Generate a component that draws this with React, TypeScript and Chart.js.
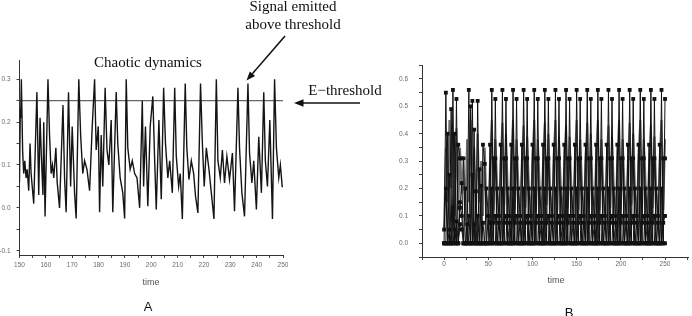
import React, { useEffect, useRef } from 'react';
import { Chart, registerables } from 'chart.js';

Chart.register(...registerables);

// ---------- Panel A : chaotic dynamics ----------
const timeA = [
  150.0, 150.3, 150.45, 150.7, 151.2, 151.6, 152.0, 152.5, 152.9, 153.5,
  154.0, 154.4, 155.4, 156.6, 157.3, 157.8, 158.3, 158.9, 159.2, 159.7,
  160.8, 161.4, 162.0, 162.5, 163.0, 163.8, 164.3, 165.2, 166.5, 167.1,
  167.7, 168.6, 169.4, 170.0, 170.9, 171.5, 172.5, 173.2, 174.0, 174.7,
  175.6, 176.6, 177.6, 178.5, 179.1, 179.9, 180.4, 181.0, 181.6, 182.5,
  183.2, 183.9, 184.8, 185.4, 186.7, 187.3, 188.2, 189.2, 189.9, 190.5,
  191.1, 192.0, 192.8, 193.7, 194.6, 195.6, 196.6, 197.1, 197.8, 198.7,
  199.6, 200.6, 201.3, 201.9, 202.9, 203.8, 204.7, 205.4, 206.3, 207.0,
  208.0, 208.9, 209.5, 210.4, 211.0, 211.8, 212.9, 213.5, 214.3, 215.2,
  216.1, 216.8, 217.7, 218.7, 219.4, 220.1, 220.9, 221.9, 222.8, 223.8,
  224.7, 225.3, 226.2, 227.0, 227.8, 228.7, 229.7, 230.8, 231.6, 232.9,
  233.5, 234.4, 235.4, 236.7, 237.3, 238.2, 238.9, 239.9, 240.8, 241.8,
  242.7, 243.3, 244.1, 245.0, 246.0, 246.8, 247.5, 248.4, 249.0, 249.7,
  250.0,
];
const valueA = [
  0.06, 0.23, 0.21, 0.30, 0.13, 0.08, 0.11, 0.07, 0.09, 0.04,
  0.15, 0.08, 0.01, 0.27, 0.03, 0.21, 0.12, 0.03, 0.20, -0.02,
  0.30, 0.17, 0.08, 0.10, 0.07, 0.14, 0.06, 0.00, 0.24, 0.07,
  -0.01, 0.27, 0.05, 0.19, 0.035, -0.025, 0.30, 0.17, 0.08, 0.11,
  0.09, 0.04, 0.19, 0.30, 0.135, 0.19, -0.01, 0.17, 0.05, 0.28,
  0.135, 0.10, 0.205, -0.01, 0.27, 0.15, 0.07, 0.035, -0.025, 0.30,
  0.14, 0.09, 0.11, 0.08, 0.07, 0.00, 0.25, 0.05, 0.19, 0.004,
  0.19, 0.26, 0.11, -0.004, 0.205, 0.02, 0.28, 0.15, 0.07, 0.11,
  0.035, 0.28, 0.12, 0.05, 0.08, -0.026, 0.29, 0.14, 0.066, 0.11,
  0.08, 0.027, -0.012, 0.29, 0.15, 0.05, 0.14, 0.09, 0.035, -0.026,
  0.30, 0.11, 0.07, 0.135, 0.058, 0.12, 0.066, 0.128, -0.008, 0.28,
  0.14, 0.035, -0.02, 0.29, 0.128, 0.058, 0.11, -0.004, 0.166, 0.035,
  0.27, 0.11, 0.05, 0.205, -0.026, 0.30, 0.14, 0.07, 0.10, 0.05,
  0.05,
];
const thresholdA = 0.25;
const thresholdSpanA = [150, 250];
const xTicksA = [150, 155, 160, 165, 170, 175, 180, 185, 190, 195, 200, 205, 210, 215, 220, 225, 230, 235, 240, 245, 250];
const yTicksA = [-0.1, -0.05, 0, 0.05, 0.1, 0.15, 0.2, 0.25, 0.3];

// ---------- Panel B : firing pattern ----------
const timeB = [
  0, 2, 4, 6, 8, 10, 12, 14, 16, 18, 20, 22, 24, 26, 28, 30, 32, 34, 36, 38,
  40, 42, 44, 46, 48, 50, 52, 54, 56, 58, 60, 62, 64, 66, 68, 70, 72, 74, 76, 78,
  80, 82, 84, 86, 88, 90, 92, 94, 96, 98, 100, 102, 104, 106, 108, 110, 112, 114, 116, 118,
  120, 122, 124, 126, 128, 130, 132, 134, 136, 138, 140, 142, 144, 146, 148, 150, 152, 154, 156, 158,
  160, 162, 164, 166, 168, 170, 172, 174, 176, 178, 180, 182, 184, 186, 188, 190, 192, 194, 196, 198,
  200, 202, 204, 206, 208, 210, 212, 214, 216, 218, 220, 222, 224, 226, 228, 230, 232, 234, 236, 238,
  240, 242, 244, 246, 248, 250,
];
const seriesP = [
  0, 0.55, 0, 0, 0, 0.56, 0, 0.527, 0, 0.15, 0.1, 0, 0, 0, 0.56, 0, 0.52, 0, 0, 0.52, 0, 0, 0, 0, 0, 0, 0,
  0.56, 0, 0.527, 0, 0, 0,
  0.56, 0, 0.527, 0, 0, 0,
  0.56, 0, 0.527, 0, 0, 0,
  0.56, 0, 0.527, 0, 0, 0,
  0.56, 0, 0.527, 0, 0, 0,
  0.56, 0, 0.527, 0, 0, 0,
  0.56, 0, 0.527, 0, 0, 0,
  0.56, 0, 0.527, 0, 0, 0,
  0.56, 0, 0.527, 0, 0, 0,
  0.56, 0, 0.527, 0, 0, 0,
  0.56, 0, 0.527, 0, 0, 0,
  0.56, 0, 0.527, 0, 0, 0,
  0.56, 0, 0.527, 0, 0, 0,
  0.56, 0, 0.527, 0, 0, 0,
  0.56, 0, 0.527, 0, 0, 0,
  0.56, 0, 0.527, 0, 0, 0,
  0.56, 0, 0.527,
];
const seriesQ = [
  0, 0, 0.40, 0, 0.49, 0, 0.40, 0, 0.36, 0.31, 0.31, 0.31, 0, 0, 0, 0.50, 0, 0.415, 0, 0, 0.27, 0, 0.36, 0.29, 0, 0, 0.36,
  0, 0.31, 0.31, 0, 0, 0.36,
  0, 0.31, 0.31, 0, 0, 0.36,
  0, 0.31, 0.31, 0, 0, 0.36,
  0, 0.31, 0.31, 0, 0, 0.36,
  0, 0.31, 0.31, 0, 0, 0.36,
  0, 0.31, 0.31, 0, 0, 0.36,
  0, 0.31, 0.31, 0, 0, 0.36,
  0, 0.31, 0.31, 0, 0, 0.36,
  0, 0.31, 0.31, 0, 0, 0.36,
  0, 0.31, 0.31, 0, 0, 0.36,
  0, 0.31, 0.31, 0, 0, 0.36,
  0, 0.31, 0.31, 0, 0, 0.36,
  0, 0.31, 0.31, 0, 0, 0.36,
  0, 0.31, 0.31, 0, 0, 0.36,
  0, 0.31, 0.31, 0, 0, 0.36,
  0, 0.31, 0.31, 0, 0, 0.36,
  0, 0.31, 0.31,
];
const seriesR = [
  0.05, 0.2, 0, 0.25, 0, 0.13, 0, 0.08, 0, 0.13, 0.22, 0, 0.2, 0, 0.1, 0, 0.25, 0, 0.19, 0, 0, 0.21, 0, 0, 0.2, 0.1, 0,
  0.2, 0, 0, 0.2, 0.1, 0,
  0.2, 0, 0, 0.2, 0.1, 0,
  0.2, 0, 0, 0.2, 0.1, 0,
  0.2, 0, 0, 0.2, 0.1, 0,
  0.2, 0, 0, 0.2, 0.1, 0,
  0.2, 0, 0, 0.2, 0.1, 0,
  0.2, 0, 0, 0.2, 0.1, 0,
  0.2, 0, 0, 0.2, 0.1, 0,
  0.2, 0, 0, 0.2, 0.1, 0,
  0.2, 0, 0, 0.2, 0.1, 0,
  0.2, 0, 0, 0.2, 0.1, 0,
  0.2, 0, 0, 0.2, 0.1, 0,
  0.2, 0, 0, 0.2, 0.1, 0,
  0.2, 0, 0, 0.2, 0.1, 0,
  0.2, 0, 0, 0.2, 0.1, 0,
  0.2, 0, 0, 0.2, 0.1, 0,
  0.2, 0, 0,
];
const seriesS = [
  0, 0, 0, 0.05, 0, 0, 0.05, 0, 0, 0.07, 0.05, 0, 0, 0.07, 0, 0, 0, 0.07, 0, 0.1, 0, 0, 0.075, 0, 0, 0.1, 0.075,
  0, 0.075, 0.1, 0, 0.075, 0,
  0, 0.075, 0.1, 0, 0.075, 0,
  0, 0.075, 0.1, 0, 0.075, 0,
  0, 0.075, 0.1, 0, 0.075, 0,
  0, 0.075, 0.1, 0, 0.075, 0,
  0, 0.075, 0.1, 0, 0.075, 0,
  0, 0.075, 0.1, 0, 0.075, 0,
  0, 0.075, 0.1, 0, 0.075, 0,
  0, 0.075, 0.1, 0, 0.075, 0,
  0, 0.075, 0.1, 0, 0.075, 0,
  0, 0.075, 0.1, 0, 0.075, 0,
  0, 0.075, 0.1, 0, 0.075, 0,
  0, 0.075, 0.1, 0, 0.075, 0,
  0, 0.075, 0.1, 0, 0.075, 0,
  0, 0.075, 0.1, 0, 0.075, 0,
  0, 0.075, 0.1, 0, 0.075, 0,
  0, 0.075, 0.1,
];
const seriesG = [
  0.05, 0.35, 0.15, 0.45, 0.2, 0.4, 0.1, 0.42, 0.12, 0.35, 0.18, 0.3, 0.08, 0.38, 0.15, 0.45, 0.2, 0.35, 0.1, 0.4, 0.15, 0.3, 0.1, 0.35, 0.12, 0.05, 0.3,
  0.45, 0.12, 0.38, 0.22, 0.05, 0.3,
  0.44, 0.14, 0.4, 0.2, 0.06, 0.32,
  0.45, 0.12, 0.38, 0.22, 0.05, 0.3,
  0.43, 0.13, 0.39, 0.21, 0.06, 0.31,
  0.45, 0.12, 0.38, 0.22, 0.05, 0.3,
  0.44, 0.14, 0.4, 0.2, 0.06, 0.32,
  0.45, 0.12, 0.38, 0.22, 0.05, 0.3,
  0.43, 0.13, 0.39, 0.21, 0.06, 0.31,
  0.45, 0.12, 0.38, 0.22, 0.05, 0.3,
  0.44, 0.14, 0.4, 0.2, 0.06, 0.32,
  0.45, 0.12, 0.38, 0.22, 0.05, 0.3,
  0.43, 0.13, 0.39, 0.21, 0.06, 0.31,
  0.45, 0.12, 0.38, 0.22, 0.05, 0.3,
  0.44, 0.14, 0.4, 0.2, 0.06, 0.32,
  0.45, 0.12, 0.38, 0.22, 0.05, 0.3,
  0.43, 0.13, 0.39, 0.21, 0.06, 0.31,
  0.45, 0.12, 0.38,
];
const xTicksB = [-25, 0, 25, 50, 75, 100, 125, 150, 175, 200, 225, 250, 275];
const yTicksB = [-0.05, 0, 0.05, 0.1, 0.15, 0.2, 0.25, 0.3, 0.35, 0.4, 0.45, 0.5, 0.55, 0.6, 0.65];

const SANS = "'Liberation Sans', Arial, sans-serif";
const SERIF = "'Liberation Serif', 'Times New Roman', serif";

function isTenth(v: number) {
  return Math.abs(v * 10 - Math.round(v * 10)) < 1e-6;
}

function makeAxis(opts: {
  min: number; max: number; ticks: number[]; label: (v: number) => string;
  isX: boolean; size: number; padding: number;
}) {
  return {
    type: 'linear',
    min: opts.min,
    max: opts.max,
    border: { display: true, color: '#333', width: 1 },
    grid: { display: true, drawOnChartArea: false, drawTicks: true, tickLength: 3, color: '#444', lineWidth: 1 },
    ticks: {
      autoSkip: false,
      maxRotation: 0,
      minRotation: 0,
      padding: opts.padding,
      color: '#6a6a6a',
      font: { size: 6.5, family: SANS },
      callback: (v: any) => opts.label(Number(v)),
    },
    afterBuildTicks: (s: any) => {
      s.ticks = opts.ticks.map((v) => ({ value: v }));
    },
    afterFit: (s: any) => {
      if (opts.isX) {
        s.height = opts.size;
        s.paddingLeft = 0;
        s.paddingRight = 0;
      } else {
        s.width = opts.size;
        s.paddingTop = 0;
        s.paddingBottom = 0;
      }
    },
  };
}

function ChartA() {
  const ref = useRef<HTMLCanvasElement>(null);
  useEffect(() => {
    if (!ref.current) return;
    const chart = new Chart(ref.current, {
      type: 'line',
      data: {
        datasets: [
          {
            data: timeA.map((t, i) => ({ x: t, y: valueA[i] })),
            borderColor: '#141414',
            borderWidth: 1.4,
            pointRadius: 0,
            tension: 0,
          },
          {
            data: thresholdSpanA.map((t) => ({ x: t, y: thresholdA })),
            borderColor: '#666',
            borderWidth: 1.2,
            pointRadius: 0,
          },
        ],
      },
      options: {
        animation: false,
        responsive: false,
        events: [],
        layout: { padding: { top: 10, right: 17, left: 0, bottom: 0 } },
        plugins: { legend: { display: false }, tooltip: { enabled: false } },
        scales: {
          x: makeAxis({
            min: 150, max: 250, ticks: xTicksA, isX: true, size: 25, padding: 3,
            label: (v) => (Math.round(v) % 10 === 0 ? String(v) : ''),
          }),
          y: makeAxis({
            min: -0.11, max: 0.345, ticks: yTicksA, isX: false, size: 19.5, padding: 6,
            label: (v) => (isTenth(v) ? v.toFixed(1) : ''),
          }),
        } as any,
      },
    });
    return () => chart.destroy();
  }, []);
  return (
    <canvas
      ref={ref}
      width={300}
      height={230}
      style={{ position: 'absolute', left: 0, top: 50, width: 300, height: 230 }}
    />
  );
}

function ChartB() {
  const ref = useRef<HTMLCanvasElement>(null);
  useEffect(() => {
    if (!ref.current) return;
    const pts = (arr: number[]) => timeB.map((t, i) => ({ x: t, y: arr[i] }));
    const marked = (arr: number[]) => ({
      data: pts(arr),
      borderColor: '#111',
      borderWidth: 1,
      pointStyle: 'rect',
      pointRadius: 2.7,
      pointBackgroundColor: '#111',
      pointBorderColor: '#111',
      pointBorderWidth: 0,
      tension: 0,
    });
    const chart = new Chart(ref.current, {
      type: 'line',
      data: {
        datasets: [
          marked(seriesP),
          marked(seriesQ),
          marked(seriesR),
          marked(seriesS),
          {
            data: pts(seriesG),
            borderColor: '#6e6e6e',
            borderWidth: 2,
            pointRadius: 0,
            tension: 0,
          },
        ] as any,
      },
      options: {
        animation: false,
        responsive: false,
        events: [],
        layout: { padding: { top: 10, right: 2, left: 0, bottom: 0 } },
        plugins: { legend: { display: false }, tooltip: { enabled: false } },
        scales: {
          x: makeAxis({
            min: -25, max: 276, ticks: xTicksB, isX: true, size: 28, padding: 0,
            label: (v) => (v >= 0 && Math.round(v) % 50 === 0 ? String(v) : ''),
          }),
          y: makeAxis({
            min: -0.05, max: 0.651, ticks: yTicksB, isX: false, size: 42, padding: 11,
            label: (v) => (v >= -1e-9 && v <= 0.6 + 1e-9 && isTenth(v) ? Math.abs(v).toFixed(1) : ''),
          }),
        } as any,
      },
    });
    return () => chart.destroy();
  }, []);
  return (
    <canvas
      ref={ref}
      width={312}
      height={230}
      style={{ position: 'absolute', left: 380, top: 55, width: 312, height: 230 }}
    />
  );
}

const textBase: React.CSSProperties = { position: 'absolute', color: '#111', whiteSpace: 'nowrap' };

export default function App() {
  return (
    <div
      style={{
        position: 'absolute',
        left: 0,
        top: 0,
        width: 692,
        height: 316,
        overflow: 'hidden',
        background: '#fff',
      }}
    >
      <ChartA />
      <ChartB />
      <svg width={692} height={316} style={{ position: 'absolute', left: 0, top: 0, pointerEvents: 'none' }}>
        <line x1={285} y1={36} x2={252.4} y2={73.7} stroke="#111" strokeWidth={1.6} />
        <polygon points="246.5,80.5 255.1,76.0 249.8,71.4" fill="#111" />
        <line x1={360} y1={103} x2={302} y2={103} stroke="#111" strokeWidth={1.6} />
        <polygon points="294,103 303.5,99.2 303.5,106.8" fill="#111" />
      </svg>
      <div style={{ ...textBase, left: 193, top: -3, width: 200, textAlign: 'center', font: `15px/18px ${SERIF}` }}>
        Signal emitted
        <br />
        above threshold
      </div>
      <div style={{ ...textBase, left: 48, top: 54, width: 200, textAlign: 'center', font: `15px/17px ${SERIF}` }}>
        Chaotic dynamics
      </div>
      <div style={{ ...textBase, left: 295, top: 82, width: 100, textAlign: 'center', font: `15px/17px ${SERIF}` }}>
        E−threshold
      </div>
      <div style={{ ...textBase, left: 121, top: 277, width: 60, textAlign: 'center', color: '#555', font: `9px/10px ${SANS}` }}>
        time
      </div>
      <div style={{ ...textBase, left: 128, top: 300, width: 40, textAlign: 'center', font: `13px/13px ${SANS}` }}>
        A
      </div>
      <div style={{ ...textBase, left: 526, top: 275, width: 60, textAlign: 'center', color: '#555', font: `9px/10px ${SANS}` }}>
        time
      </div>
      <div style={{ ...textBase, left: 549, top: 306, width: 40, textAlign: 'center', font: `13px/13px ${SANS}` }}>
        B
      </div>
    </div>
  );
}
